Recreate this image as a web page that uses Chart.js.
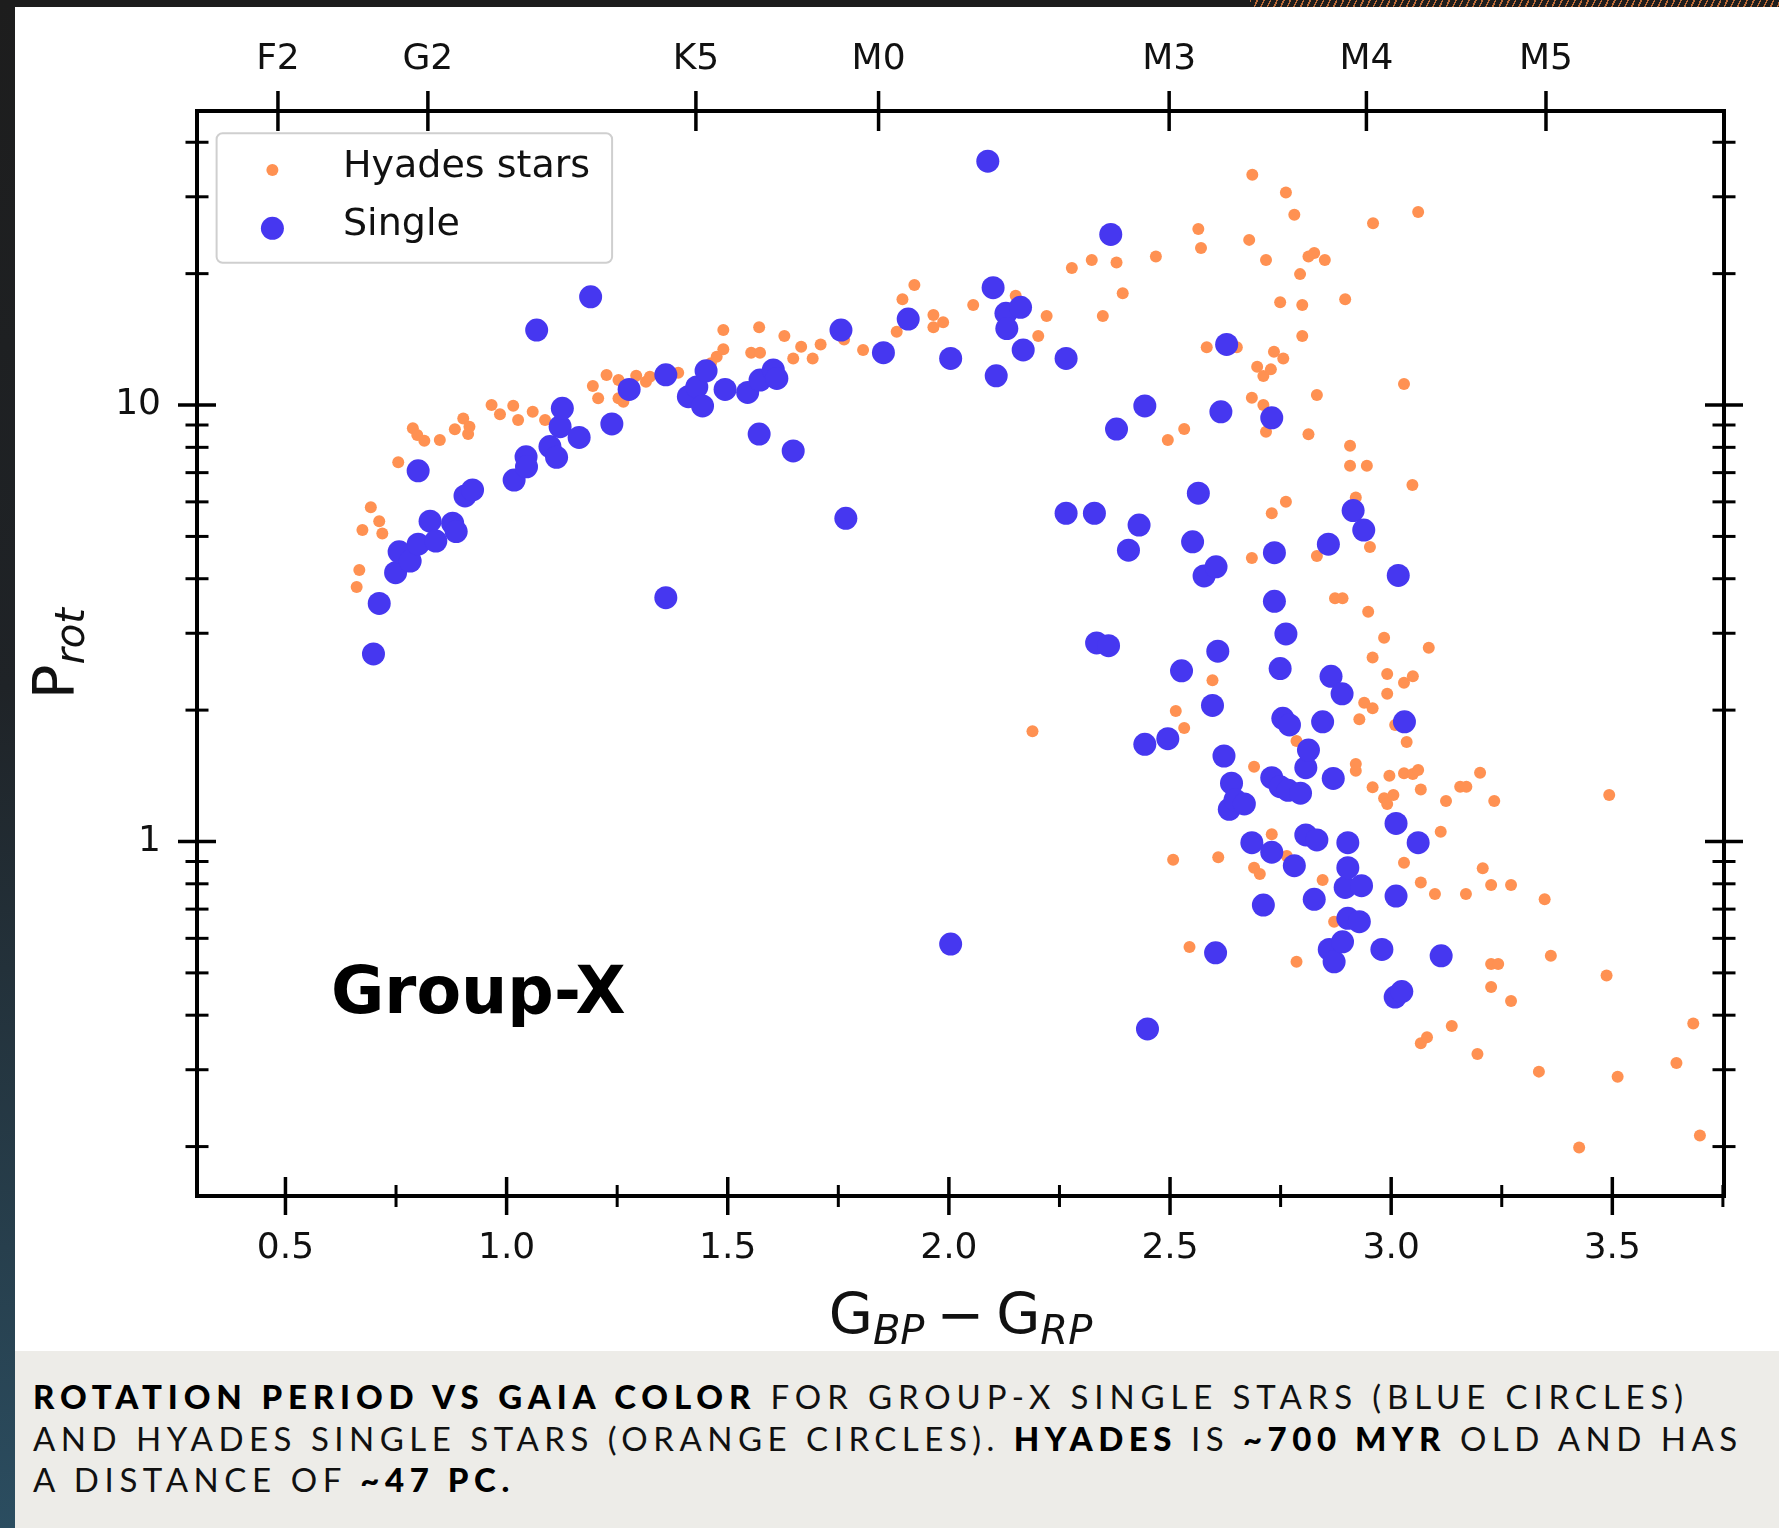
<!DOCTYPE html>
<html>
<head>
<meta charset="utf-8">
<title>Rotation period vs Gaia colour</title>
<script src="https://cdn.jsdelivr.net/npm/chart.js@4.4.1/dist/chart.umd.min.js"></script>
<style>
  html, body { margin: 0; padding: 0; }
  body {
    width: 1779px; height: 1528px; overflow: hidden; position: relative;
    background: linear-gradient(to bottom, #1d1d1d 0%, #1f2327 45%, #2b4d60 100%);
  }
  #deco {
    position: absolute; left: 1250px; top: 0; width: 529px; height: 7px;
    background: repeating-linear-gradient(115deg, rgba(214,120,60,0.85) 0 1.5px, transparent 1.5px 6px);
  }
  #panel { position: absolute; left: 15px; top: 7px; width: 1764px; height: 1344px; background: #fff; }
  #caption {
    position: absolute; left: 15px; top: 1351px; width: 1764px; height: 177px;
    box-sizing: border-box; padding: 25px 0 0 18px;
    background: #edece8; color: #111;
    font-family: Lato, "Open Sans", sans-serif; font-size: 33px; line-height: 41.5px;
  }
  #caption .line { width: max-content; white-space: nowrap; }
  #caption b { font-weight: 900; color: #000; }
</style>
</head>
<body>
<div id="deco"></div>
<div id="panel"><canvas id="chart" width="1764" height="1344"></canvas></div>
<div id="caption">
  <div class="line"><b>ROTATION PERIOD VS GAIA COLOR</b> FOR GROUP-X SINGLE STARS (BLUE CIRCLES)</div>
  <div class="line">AND HYADES SINGLE STARS (ORANGE CIRCLES). <b>HYADES</b> IS <b>~700 MYR</b> OLD AND HAS</div>
  <div class="line">A DISTANCE OF <b>~47 PC.</b></div>
</div>
<script>
// Hyades single stars: Gaia colour and rotation period (days)
const hyadesColor = [
  0.661, 0.667, 0.674, 0.693, 0.712, 0.719, 0.755, 0.788, 0.798, 0.814,
  0.849, 0.883, 0.902, 0.913, 0.916, 0.966, 0.985, 1.015, 1.026, 1.059,
  1.087, 1.195, 1.207, 1.226, 1.253, 1.253, 1.264, 1.293, 1.315, 1.324,
  1.388, 1.462, 1.475, 1.490, 1.490, 1.553, 1.571, 1.573, 1.628, 1.648,
  1.666, 1.692, 1.710, 1.763, 1.806, 1.882, 1.895, 1.922, 1.965, 1.987,
  1.965, 2.055, 2.151, 2.202, 2.221, 2.278, 2.323, 2.348, 2.379, 2.393,
  2.468, 2.495, 2.532, 2.564, 2.570, 2.583, 2.651, 2.679, 2.685, 2.685,
  2.686, 2.697, 2.711, 2.711, 2.717, 2.717, 2.728, 2.730, 2.735, 2.749,
  2.756, 2.762, 2.762, 2.781, 2.794, 2.799, 2.799, 2.813, 2.813, 2.826,
  2.832, 2.832, 2.850, 2.873, 2.890, 2.896, 2.907, 2.907, 2.920, 2.945,
  2.948, 2.952, 2.959, 2.984, 3.029, 3.048, 3.061, 3.085, 2.958, 2.991,
  3.029, 3.049, 2.991, 2.939, 2.958, 2.928, 3.009, 3.035, 2.596, 2.513,
  2.532, 2.786, 2.690, 2.920, 2.920, 2.996, 3.029, 3.049, 3.061, 2.958,
  2.984, 3.005, 2.991, 3.067, 3.124, 3.156, 3.170, 3.201, 3.233, 3.112,
  2.730, 2.764, 2.507, 2.609, 2.690, 2.703, 2.845, 3.029, 3.067, 3.099,
  3.169, 3.207, 3.226, 3.271, 3.347, 2.871, 2.544, 2.786, 3.226, 3.242,
  3.361, 3.226, 3.271, 3.137, 3.067, 3.081, 3.195, 3.334, 3.493, 3.487,
  3.512, 3.683, 3.645, 3.425, 3.698, 2.189
];
const hyadesProt = [
  3.83, 4.19, 5.17, 5.83, 5.42, 5.08, 7.39, 8.85, 8.54, 8.28,
  8.32, 8.80, 9.32, 8.58, 8.92, 10.0, 9.52, 9.96, 9.24, 9.65,
  9.24, 11.06, 10.36, 11.71, 11.41, 10.36, 10.18, 11.67, 11.31, 11.61,
  11.86, 12.46, 12.90, 13.42, 14.85, 13.18, 15.07, 13.18, 14.39, 12.79,
  13.60, 12.79, 13.77, 14.13, 13.37, 14.72, 17.47, 18.83, 16.08, 15.47,
  15.07, 16.95, 17.80, 14.39, 16.0, 20.6, 21.5, 16.0, 21.2, 18.03,
  21.9, 8.32, 8.81, 25.3, 22.9, 13.56, 13.56, 23.9, 10.39, 4.46,
  33.7, 12.24, 11.65, 10.0, 21.5, 8.69, 12.07, 5.65, 13.25, 17.19,
  12.79, 30.7, 6.00, 27.3, 19.95, 16.95, 14.39, 21.9, 8.57, 22.3,
  10.54, 4.51, 21.5, 3.61, 3.61, 17.47, 8.07, 7.26, 6.14, 7.26,
  3.36, 4.73, 26.1, 2.93, 11.17, 6.56, 27.7, 2.78, 2.64, 2.42,
  2.31, 2.39, 2.18, 2.08, 2.02, 1.905, 1.85, 1.69, 2.34, 1.99,
  1.82, 1.70, 1.484, 1.505, 1.453, 1.415, 1.433, 1.428, 1.458, 1.331,
  1.256, 1.278, 1.219, 1.315, 1.238, 1.335, 1.335, 1.438, 1.238, 1.053,
  1.039, 0.926, 0.908, 0.920, 0.871, 0.842, 0.816, 0.894, 0.806, 0.758,
  0.758, 0.868, 0.795, 0.795, 0.737, 0.655, 0.573, 0.530, 0.524, 0.524,
  0.547, 0.464, 0.431, 0.378, 0.345, 0.356, 0.326, 0.297, 1.278, 0.493,
  0.289, 0.383, 0.311, 0.199, 0.212, 1.79
];

// Group-X single stars
const singleColor = [
  0.699, 0.712, 0.749, 0.757, 0.782, 0.800, 0.800, 0.827, 0.840, 0.878,
  0.886, 0.906, 0.923, 1.017, 1.044, 1.045, 1.068, 1.098, 1.113, 1.121,
  1.126, 1.164, 1.190, 1.238, 1.277, 1.360, 1.360, 1.411, 1.430, 1.443,
  1.451, 1.494, 1.545, 1.571, 1.573, 1.603, 1.611, 1.648, 1.756, 1.767,
  1.852, 1.908, 2.004, 2.004, 2.088, 2.100, 2.107, 2.129, 2.131, 2.162,
  2.168, 2.265, 2.265, 2.329, 2.334, 2.361, 2.366, 2.379, 2.406, 2.430,
  2.443, 2.443, 2.449, 2.495, 2.526, 2.551, 2.564, 2.577, 2.596, 2.603,
  2.604, 2.608, 2.615, 2.622, 2.628, 2.634, 2.639, 2.647, 2.668, 2.685,
  2.711, 2.730, 2.730, 2.730, 2.736, 2.736, 2.749, 2.749, 2.755, 2.762,
  2.767, 2.770, 2.781, 2.795, 2.807, 2.807, 2.813, 2.826, 2.832, 2.845,
  2.858, 2.860, 2.864, 2.869, 2.871, 2.889, 2.890, 2.896, 2.902, 2.902,
  2.902, 2.914, 2.928, 2.933, 2.938, 2.979, 3.009, 3.011, 3.011, 3.016,
  3.024, 3.030, 3.061, 3.113
];
const singleProt = [
  2.69, 3.51, 4.13, 4.61, 4.39, 4.80, 7.07, 5.42, 4.88, 5.36,
  5.13, 6.19, 6.39, 6.73, 7.61, 7.22, 14.85, 8.03, 7.59, 8.92,
  9.83, 8.43, 17.7, 9.05, 10.86, 11.73, 3.62, 10.45, 11.0, 9.95,
  11.98, 10.86, 10.69, 8.58, 11.41, 12.03, 11.51, 7.85, 14.85, 5.50,
  13.18, 15.74, 12.79, 0.582, 36.2, 18.57, 11.67, 16.22, 14.97, 16.74,
  13.37, 12.79, 5.65, 5.65, 2.85, 2.81, 24.6, 8.81, 4.65, 5.31,
  9.95, 1.67, 0.372, 1.72, 2.46, 4.86, 6.28, 4.06, 2.05, 0.556,
  4.26, 2.73, 9.65, 1.57, 13.77, 1.185, 1.36, 1.245, 1.219, 0.994,
  0.715, 9.35, 1.40, 0.945, 4.59, 3.55, 2.49, 1.335, 1.915, 2.99,
  1.31, 1.85, 0.880, 1.29, 1.476, 1.035, 1.62, 0.737, 1.008, 1.88,
  4.80, 0.566, 2.39, 1.395, 0.530, 2.18, 0.589, 0.785, 0.994, 0.871,
  0.667, 5.73, 0.655, 0.792, 5.17, 0.566, 0.440, 1.10, 0.750, 4.07,
  0.453, 1.88, 0.994, 0.547
];

// axes
const xMajorTicks = [0.5, 1.0, 1.5, 2.0, 2.5, 3.0, 3.5];
const xMinorTicks = [0.75, 1.25, 1.75, 2.25, 2.75, 3.25, 3.75];
const yMajorTicks = [1, 10];
const yMinorTicks = [0.2, 0.3, 0.4, 0.5, 0.6, 0.7, 0.8, 0.9, 2, 3, 4, 5, 6, 7, 8, 9, 20, 30, 40];
const spectralTypes = ["F2", "G2", "K5", "M0", "M3", "M4", "M5"];
const spectralColor = [0.483, 0.822, 1.428, 1.841, 2.498, 2.944, 3.350];

const FONT = "DejaVu Sans";
const INK = "#111";

function toPoints(xs, ys) {
    return xs.map((x, i) => ({ x: x, y: ys[i] }));
}

// draws a list of text runs left to right
function drawRuns(ctx, runs, x, y) {
    runs.forEach(r => {
        ctx.font = r.font;
        ctx.fillText(r.text, x, y + (r.dy || 0));
        x += ctx.measureText(r.text).width + (r.gap || 0);
    });
}

function runsWidth(ctx, runs) {
    let w = 0;
    runs.forEach(r => {
        ctx.font = r.font;
        w += ctx.measureText(r.text).width + (r.gap || 0);
    });
    return w;
}

// matplotlib-like frame: in-out ticks on all sides, legend, labels
const mplFrame = {
    id: "mplFrame",
    afterDraw(chart) {
        const ctx = chart.ctx;
        const a = chart.chartArea;
        const xs = chart.scales.x;
        const ys = chart.scales.y;

        ctx.save();
        ctx.strokeStyle = "#000";
        ctx.lineCap = "butt";
        const line = (x1, y1, x2, y2, w) => {
            ctx.lineWidth = w;
            ctx.beginPath();
            ctx.moveTo(x1, y1);
            ctx.lineTo(x2, y2);
            ctx.stroke();
        };

        xMajorTicks.forEach(v => {
            const px = xs.getPixelForValue(v);
            line(px, a.bottom - 19, px, a.bottom + 19, 3.5);
        });
        xMinorTicks.forEach(v => {
            if (v > xs.max) return;
            const px = xs.getPixelForValue(v);
            line(px, a.bottom - 11, px, a.bottom + 11, 3);
        });
        spectralColor.forEach(v => {
            const px = xs.getPixelForValue(v);
            line(px, a.top - 20, px, a.top + 20, 3.5);
        });
        yMajorTicks.forEach(v => {
            const py = ys.getPixelForValue(v);
            line(a.left - 19, py, a.left + 19, py, 3.5);
            line(a.right - 19, py, a.right + 19, py, 3.5);
        });
        yMinorTicks.forEach(v => {
            const py = ys.getPixelForValue(v);
            line(a.left - 11.5, py, a.left + 11.5, py, 3);
            line(a.right - 11.5, py, a.right + 11.5, py, 3);
        });

        ctx.lineWidth = 4;
        ctx.strokeRect(a.left, a.top, a.right - a.left, a.bottom - a.top);

        // legend box
        const lg = { x: a.left + 19.6, y: a.top + 22.3, w: 395.5, h: 129.4 };
        ctx.beginPath();
        ctx.roundRect(lg.x, lg.y, lg.w, lg.h, 6);
        ctx.fillStyle = "rgba(255,255,255,0.85)";
        ctx.fill();
        ctx.lineWidth = 2;
        ctx.strokeStyle = "#cfcfcf";
        ctx.stroke();
        chart.data.datasets.forEach((ds, i) => {
            const cy = lg.y + 36.7 + i * 58.3;
            ctx.beginPath();
            ctx.arc(lg.x + 55.8, cy, ds.pointRadius, 0, Math.PI * 2);
            ctx.fillStyle = ds.backgroundColor;
            ctx.fill();
            ctx.fillStyle = INK;
            ctx.font = "38px '" + FONT + "'";
            ctx.textBaseline = "alphabetic";
            ctx.textAlign = "left";
            ctx.fillText(ds.label, lg.x + 126.4, cy + 6.7);
        });

        // group label
        ctx.fillStyle = "#000";
        ctx.font = "bold 65px '" + FONT + "'";
        ctx.fillText("Group-X", xs.getPixelForValue(0.603), ys.getPixelForValue(0.405));

        // x title: G_BP - G_RP
        const up = "57px '" + FONT + "'";
        const sub = "oblique 40px '" + FONT + "'";
        const xRuns = [
            { text: "G", font: up },
            { text: "BP", font: sub, dy: 10, gap: 12 },
            { text: "\u2212", font: up, gap: 12 },
            { text: "G", font: up },
            { text: "RP", font: sub, dy: 10 }
        ];
        ctx.fillStyle = INK;
        const xw = runsWidth(ctx, xRuns);
        drawRuns(ctx, xRuns, (a.left + a.right) / 2 - xw / 2, 1327);

        // y title: P_rot
        const yRuns = [
            { text: "P", font: up },
            { text: "rot", font: sub, dy: 10 }
        ];
        ctx.translate(59, (a.top + a.bottom) / 2);
        ctx.rotate(-Math.PI / 2);
        const yw = runsWidth(ctx, yRuns);
        drawRuns(ctx, yRuns, -yw / 2, 0);

        ctx.restore();
    }
};

const tickFont = { family: FONT, size: 36 };

new Chart(document.getElementById("chart"), {
    type: "scatter",
    data: {
        datasets: [
            {
                label: "Hyades stars",
                data: toPoints(hyadesColor, hyadesProt),
                backgroundColor: "#ff9152",
                borderWidth: 0,
                pointRadius: 6,
                order: 2
            },
            {
                label: "Single",
                data: toPoints(singleColor, singleProt),
                backgroundColor: "#4637f0",
                borderWidth: 0,
                pointRadius: 11.5,
                order: 1
            }
        ]
    },
    options: {
        responsive: false,
        animation: false,
        events: [],
        layout: { padding: { left: 0, top: 0, right: 55, bottom: 0 } },
        plugins: { legend: { display: false }, tooltip: { enabled: false } },
        scales: {
            x: {
                type: "linear",
                position: "bottom",
                min: 0.3,
                max: 3.7525,
                grid: { display: false, drawTicks: false },
                border: { display: false },
                afterBuildTicks: s => { s.ticks = xMajorTicks.map(v => ({ value: v })); },
                afterFit: s => { s.height = 155; },
                ticks: {
                    padding: 31, color: INK, font: tickFont, autoSkip: false, maxRotation: 0,
                    callback: v => v.toFixed(1)
                }
            },
            xTop: {
                type: "linear",
                axis: "x",
                position: "top",
                min: 0.3,
                max: 3.7525,
                grid: { display: false, drawTicks: false },
                border: { display: false },
                afterBuildTicks: s => { s.ticks = spectralColor.map(v => ({ value: v })); },
                afterFit: s => { s.height = 104; },
                ticks: {
                    padding: 30, color: INK, font: tickFont, autoSkip: false, maxRotation: 0,
                    callback: (v, i) => spectralTypes[i]
                }
            },
            y: {
                type: "logarithmic",
                position: "left",
                min: 0.1541,
                max: 47.17,
                grid: { display: false, drawTicks: false },
                border: { display: false },
                afterBuildTicks: s => { s.ticks = yMajorTicks.map(v => ({ value: v })); },
                afterFit: s => { s.width = 182; },
                ticks: {
                    padding: 36, color: INK, font: tickFont, autoSkip: false,
                    callback: v => String(v)
                }
            }
        }
    },
    plugins: [mplFrame]
});

// caption: spread each line to the width it has in the figure
const captionWidths = [1656, 1710, 482];
function fitCaption() {
    document.querySelectorAll("#caption .line").forEach((el, i) => {
        el.style.letterSpacing = "0px";
        const w = el.getBoundingClientRect().width;
        const n = el.textContent.length;
        el.style.letterSpacing = ((captionWidths[i] - w) / n).toFixed(2) + "px";
    });
}
fitCaption();
if (document.fonts) document.fonts.ready.then(fitCaption);
</script>
</body>
</html>
